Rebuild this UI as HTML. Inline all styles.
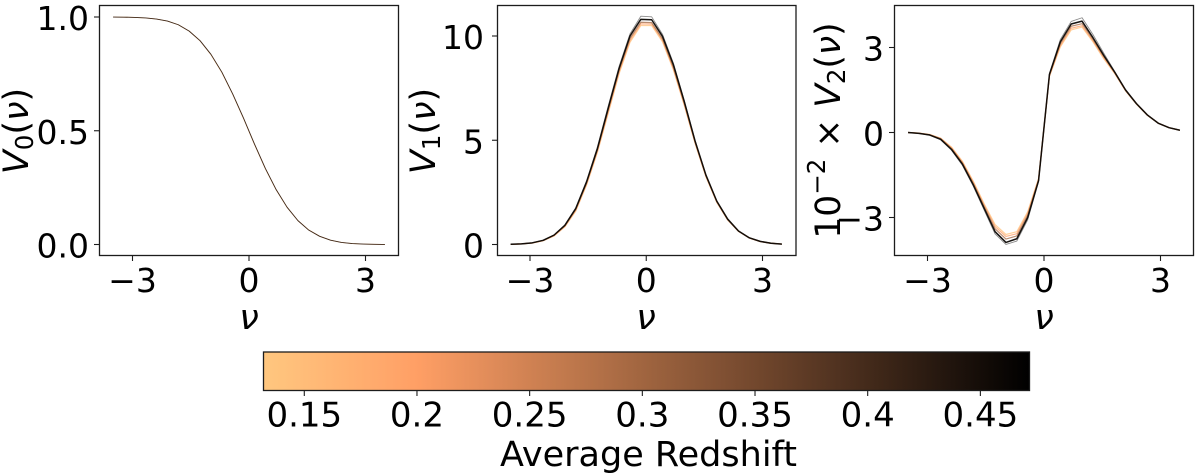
<!DOCTYPE html>
<html lang="en">
<head>
<meta charset="utf-8">
<title>Minkowski functionals versus redshift</title>
<style>
html,body{margin:0;padding:0;background:#fff;width:1200px;height:476px;overflow:hidden}
svg{display:block}
text{font-family:"DejaVu Sans","Liberation Sans",sans-serif;fill:#000}
</style>
</head>
<body>
<svg id="chart" xmlns="http://www.w3.org/2000/svg" width="1200" height="476" viewBox="0 0 1200 476">
  <defs>
    <linearGradient id="copper-gradient" x1="0" y1="0" x2="1" y2="0"></linearGradient>
  </defs>
  <rect x="0" y="0" width="1200" height="476" fill="#fff"/>
  <g id="panel-0"></g>
  <g id="panel-1"></g>
  <g id="panel-2"></g>

  <text transform="translate(28 131) rotate(-90)" text-anchor="middle" font-size="35"><tspan font-style="italic">V</tspan><tspan font-size="24.5" dy="5">0</tspan><tspan dy="-5">(</tspan><tspan font-style="italic">ν</tspan>)</text>
  <text transform="translate(435 131) rotate(-90)" text-anchor="middle" font-size="35"><tspan font-style="italic">V</tspan><tspan font-size="24.5" dy="5">1</tspan><tspan dy="-5">(</tspan><tspan font-style="italic">ν</tspan>)</text>
  <text transform="translate(840 130.5) rotate(-90)" text-anchor="middle" font-size="34.5">10<tspan font-size="24.5" dy="-15">−2</tspan><tspan dy="15"> × </tspan><tspan font-style="italic">V</tspan><tspan font-size="24.5" dy="5">2</tspan><tspan dy="-5">(</tspan><tspan font-style="italic">ν</tspan>)</text>

  <text x="249" y="329" text-anchor="middle" font-size="35" font-style="italic">ν</text>
  <text x="646" y="329" text-anchor="middle" font-size="35" font-style="italic">ν</text>
  <text x="1044" y="329" text-anchor="middle" font-size="35" font-style="italic">ν</text>

  <g id="colorbar"></g>
  <text x="648.5" y="466" text-anchor="middle" font-size="34.5" textLength="297" lengthAdjust="spacingAndGlyphs">Average Redshift</text>
</svg>
<script>
// Data
const nuValues = [-3.5,-3.22,-2.94,-2.66,-2.38,-2.1,-1.82,-1.54,-1.26,-0.98,-0.7,-0.42,-0.14,0.14,0.42,0.7,0.98,1.26,1.54,1.82,2.1,2.38,2.66,2.94,3.22,3.5];

// Draw order: faint dark line first, oranges next, main dark line on top
const v0Redshifts = [0.14, 0.42];
const v0Low  = [0.9998,0.9994,0.998,0.996,0.991,0.982,0.966,0.938,0.895,0.834,0.756,0.66,0.553,0.44,0.333,0.24,0.163,0.105,0.064,0.036,0.019,0.009,0.004,0.002,0.0006,0.0002];
const v0High = [0.9998,0.9994,0.998,0.996,0.991,0.982,0.966,0.938,0.896,0.836,0.758,0.662,0.555,0.442,0.335,0.241,0.164,0.105,0.063,0.036,0.019,0.009,0.004,0.002,0.0006,0.0002];

const seriesRedshifts = [0.47, 0.14, 0.2, 0.3, 0.46];

const v1Faint = [0.01,0.03,0.08,0.2,0.46,0.94,1.76,3.06,4.68,6.65,8.55,10.1,10.95,10.92,10.08,8.7,6.92,5.0,3.35,2.09,1.23,0.65,0.33,0.15,0.06,0.02];
const v1Z014  = [0.01,0.03,0.07,0.18,0.41,0.85,1.6,2.85,4.42,6.3,8.2,9.7,10.5,10.5,9.72,8.38,6.68,4.85,3.25,2.02,1.18,0.63,0.31,0.14,0.06,0.02];
const v1Z020  = [0.01,0.03,0.07,0.19,0.42,0.87,1.64,2.9,4.48,6.38,8.28,9.78,10.58,10.57,9.8,8.44,6.73,4.88,3.27,2.04,1.19,0.64,0.31,0.14,0.06,0.02];
const v1Z030  = [0.01,0.03,0.08,0.19,0.44,0.9,1.68,2.95,4.54,6.46,8.36,9.88,10.66,10.64,9.86,8.5,6.78,4.91,3.3,2.06,1.2,0.64,0.32,0.15,0.06,0.02];
const v1Z046  = [0.01,0.03,0.08,0.2,0.45,0.92,1.72,3.0,4.6,6.55,8.45,10.0,10.8,10.78,9.98,8.62,6.86,4.96,3.33,2.08,1.22,0.65,0.32,0.15,0.06,0.02];

const v2Faint = [0,-0.03,-0.1,-0.26,-0.63,-1.16,-1.9,-2.74,-3.58,-3.95,-3.83,-3.08,-1.74,2.08,3.28,3.92,4.05,3.46,2.8,2.16,1.52,1.03,0.63,0.33,0.17,0.08];
const v2Z014  = [0,-0.02,-0.07,-0.2,-0.52,-1.02,-1.72,-2.52,-3.25,-3.6,-3.5,-2.8,-1.62,1.98,3.02,3.62,3.72,3.2,2.6,2.08,1.47,1.0,0.61,0.33,0.17,0.08];
const v2Z020  = [0,-0.02,-0.08,-0.21,-0.54,-1.05,-1.76,-2.57,-3.32,-3.67,-3.57,-2.86,-1.65,2.0,3.07,3.68,3.77,3.24,2.64,2.1,1.48,1.01,0.61,0.33,0.17,0.08];
const v2Z030  = [0,-0.03,-0.08,-0.22,-0.57,-1.08,-1.8,-2.62,-3.4,-3.76,-3.65,-2.92,-1.67,2.02,3.13,3.75,3.84,3.29,2.68,2.12,1.49,1.02,0.62,0.33,0.17,0.08];
const v2Z046  = [0,-0.03,-0.09,-0.24,-0.6,-1.12,-1.85,-2.68,-3.5,-3.88,-3.75,-3.0,-1.7,2.05,3.2,3.83,3.93,3.35,2.72,2.13,1.5,1.02,0.62,0.33,0.17,0.08];

const xTickValues = [-3, 0, 3];
const v0TickValues = [0, 0.5, 1];
const v0TickLabels = ['0.0', '0.5', '1.0'];
const v1TickValues = [0, 5, 10];
const v1TickLabels = ['0', '5', '10'];
const v2TickValues = [-3, 0, 3];
const v2TickLabels = ['−3', '0', '3'];
const colorbarTickValues = [0.15, 0.2, 0.25, 0.3, 0.35, 0.4, 0.45];
const colorbarTickLabels = ['0.15', '0.2', '0.25', '0.3', '0.35', '0.4', '0.45'];
const colorbarRange = [0.1319, 0.4718];

const NS = 'http://www.w3.org/2000/svg';

function make(tag, attrs, parent) {
  const el = document.createElementNS(NS, tag);
  Object.keys(attrs).forEach(function (k) { el.setAttribute(k, attrs[k]); });
  parent.appendChild(el);
  return el;
}

// copper_r colormap
function copperColor(x) {
  const r = Math.min(1, 1.25 * x);
  const g = 0.7812 * x;
  const b = 0.4975 * x;
  return 'rgb(' + Math.round(r * 255) + ',' + Math.round(g * 255) + ',' + Math.round(b * 255) + ')';
}
function redshiftColor(z) {
  return copperColor((colorbarRange[1] - z) / (colorbarRange[1] - colorbarRange[0]));
}

function linearScale(v0, p0, v1, p1) {
  return function (v) { return p0 + (v - v0) * (p1 - p0) / (v1 - v0); };
}

function drawPanel(cfg) {
  const g = document.getElementById(cfg.id);
  const xScale = linearScale(-3, cfg.xMinus3, 3, cfg.xPlus3);
  const yScale = linearScale(cfg.refA, cfg.pxA, cfg.refB, cfg.pxB);

  cfg.series.forEach(function (vals, i) {
    const pts = vals.map(function (v, j) {
      return xScale(nuValues[j]).toFixed(2) + ',' + yScale(v).toFixed(2);
    }).join(' ');
    const isMain = i === cfg.series.length - 1;
    const isFaint = cfg.faintFirst && i === 0;
    const line = make('polyline', {
      points: pts,
      fill: 'none',
      stroke: redshiftColor(cfg.redshifts[i]),
      'stroke-width': cfg.widthFor(isMain, isFaint),
      'stroke-opacity': isFaint ? 0.45 : (isMain ? 0.95 : 0.75),
      'stroke-linejoin': 'round'
    }, g);
    
    
  });

  const frame = make('rect', {
    x: cfg.left, y: 5.5, width: cfg.right - cfg.left, height: 250,
    fill: 'none', stroke: '#1c1c1c', 'stroke-width': 1.3
  }, g);
  
  

  xTickValues.forEach(function (v) {
    const px = xScale(v);
    const tick = make('line', { x1: px, x2: px, y1: 255.5, y2: 261, stroke: '#1c1c1c', 'stroke-width': 1.1 }, g);
    
    
    const label = make('text', { x: px, y: 292, 'text-anchor': 'middle', 'font-size': 33 }, g);
    label.textContent = v < 0 ? '−' + Math.abs(v) : String(v);
    
    
  });

  cfg.yTicks.forEach(function (v, i) {
    const py = yScale(v);
    const tick = make('line', { x1: cfg.left - 5.5, x2: cfg.left, y1: py, y2: py, stroke: '#1c1c1c', 'stroke-width': 1.1 }, g);
    
    
    const label = make('text', { x: cfg.left - cfg.labelGap, y: py + 13, 'text-anchor': 'end', 'font-size': 33 }, g);
    label.textContent = cfg.yLabels[i];
    
    
  });
}

drawPanel({
  id: 'panel-0', name: 'v0', left: 99.5, right: 398.5, xMinus3: 132.5, xPlus3: 365.5, labelGap: 10.5,
  refA: 0, pxA: 244.5, refB: 1, pxB: 17,
  yTicks: v0TickValues, yLabels: v0TickLabels,
  series: [v0Low, v0High], redshifts: v0Redshifts, faintFirst: false,
  widthFor: function () { return 0.9; }
});
drawPanel({
  id: 'panel-1', name: 'v1', left: 497.5, right: 796, xMinus3: 530, xPlus3: 762.5, labelGap: 13.5,
  refA: 0, pxA: 244.5, refB: 10, pxB: 36,
  yTicks: v1TickValues, yLabels: v1TickLabels,
  series: [v1Faint, v1Z014, v1Z020, v1Z030, v1Z046], redshifts: seriesRedshifts, faintFirst: true,
  widthFor: function (isMain, isFaint) { return isMain ? 1.5 : (isFaint ? 0.9 : 1.2); }
});
drawPanel({
  id: 'panel-2', name: 'v2', left: 894.5, right: 1193.5, xMinus3: 927.5, xPlus3: 1160.5, labelGap: 10.5,
  refA: -3, pxA: 217.5, refB: 3, pxB: 47.5,
  yTicks: v2TickValues, yLabels: v2TickLabels,
  series: [v2Faint, v2Z014, v2Z020, v2Z030, v2Z046], redshifts: seriesRedshifts, faintFirst: true,
  widthFor: function (isMain, isFaint) { return isMain ? 1.5 : (isFaint ? 0.9 : 1.2); }
});

// Colorbar
(function () {
  const grad = document.getElementById('copper-gradient');
  for (let i = 0; i <= 20; i++) {
    make('stop', { offset: (i / 20), 'stop-color': copperColor(1 - i / 20) }, grad);
  }
  const g = document.getElementById('colorbar');
  const cbLeft = 263.5, cbRight = 1029.5, cbTop = 352, cbBottom = 390.5;
  const cbScale = linearScale(colorbarRange[0], cbLeft, colorbarRange[1], cbRight);

  const bar = make('rect', {
    x: cbLeft, y: cbTop, width: cbRight - cbLeft, height: cbBottom - cbTop,
    fill: 'url(#copper-gradient)', stroke: '#1c1c1c', 'stroke-width': 1.3
  }, g);
  
  

  colorbarTickValues.forEach(function (v, i) {
    const px = cbScale(v);
    const tick = make('line', { x1: px, x2: px, y1: cbBottom, y2: cbBottom + 5.5, stroke: '#1c1c1c', 'stroke-width': 1.1 }, g);
    
    
    const label = make('text', { x: px, y: 426.5, 'text-anchor': 'middle', 'font-size': 34 }, g);
    label.textContent = colorbarTickLabels[i];
    
    
  });
})();
</script>
</body>
</html>
